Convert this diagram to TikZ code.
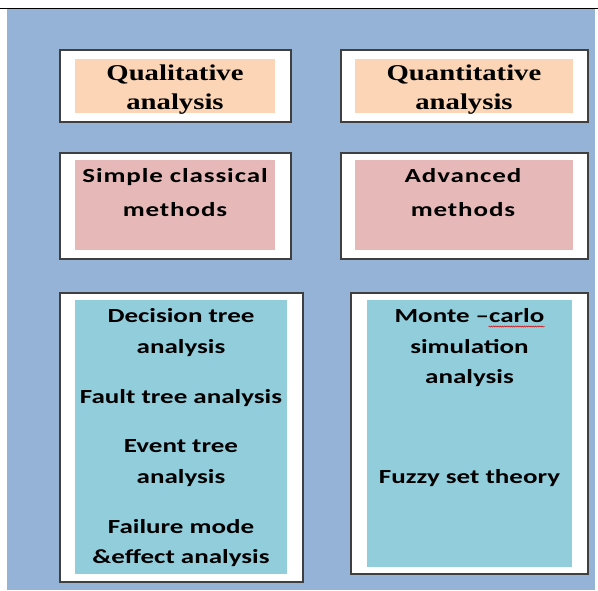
\documentclass[tikz,border=0pt]{standalone}
\usepackage{fontspec}
\setmainfont{Carlito}[FakeStretch=1.35]
\newfontfamily\serifhead{Liberation Serif}[FakeStretch=1.27]
\newfontfamily\widebody{Carlito}[FakeStretch=1.35,LetterSpace=4.5]
\usetikzlibrary{decorations.pathmorphing}
\definecolor{sheet}{HTML}{95B3D7}
\definecolor{peach}{HTML}{FBD5B5}
\definecolor{rose}{HTML}{E6B9B8}
\definecolor{aqua}{HTML}{92CDDC}
\definecolor{rim}{HTML}{3F3F3F}
\tikzset{
    frame/.style={draw=rim,line width=1.3pt,fill=white},
    head/.style={anchor=base,inner sep=0pt,font=\serifhead\bfseries\fontsize{22.6}{27}\selectfont},
    body/.style={anchor=base,inner sep=0pt,font=\bfseries\fontsize{20}{24}\selectfont},
    widebody/.style={body,font=\widebody\bfseries\fontsize{20}{24}\selectfont},
    spell/.style={draw=red!85!black,line width=0.5pt,decorate,decoration={snake,amplitude=0.6pt,segment length=2.2pt}},
}
\begin{document}
\begin{tikzpicture}[x=1pt,y=-1pt]
        \useasboundingbox (0,0) rectangle (598,590);
        \fill[sheet] (7,9) rectangle (595,590);
        \draw[line width=1.2pt] (0,8.4) -- (598,8.4);
        % white frames with their coloured panels
        \foreach \ax/\ay/\bx/\by/\cx/\cy/\dx/\dy/\col in {%
            60/50/291/122/75/59/275/113/peach,
            341/50/588/122/355/59/573/113/peach,
            60/153/291/259/75/160/275/250/rose,
            341/153/588/259/355/160/573/250/rose,
            60/293/303/582/75/300/287/574/aqua,
            351/293/588/574/367/300/572/567/aqua}{%
            \draw[frame] (\ax,\ay) rectangle (\bx,\by);
            \fill[\col] (\cx,\cy) rectangle (\dx,\dy);
        }
        \node[head] (ql-1) at (175,80) {Qualitative};
        \node[head] (ql-2) at (175,109) {analysis};
        \node[head] (qn-1) at (464,80) {Quantitative};
        \node[head] (qn-2) at (464,109) {analysis};
        \node[widebody] (sc-1) at (175,182) {Simple classical};
        \node[widebody] (sc-2) at (175,216) {methods};
        \node[widebody] (am-1) at (463,182) {Advanced};
        \node[widebody] (am-2) at (463,216) {methods};
        \foreach \txt/\yy [count=\i] in {Decision tree/322,analysis/353,Fault tree analysis/403,Event tree/452,analysis/483,Failure mode/533,\&effect analysis/563}{%
            \node[body] (dl-\i) at (181,\yy) {\txt};
        }
        \foreach \txt/\yy [count=\i] in {Monte –carlo/322,simulation/353,analysis/383,Fuzzy set theory/483}{%
            \node[body] (dr-\i) at (469.5,\yy) {\txt};
        }
        \draw[spell] ([xshift=-56pt,yshift=-4.5pt]dr-1.base east) -- ([yshift=-4.5pt]dr-1.base east);
    \end{tikzpicture}
\end{document}
